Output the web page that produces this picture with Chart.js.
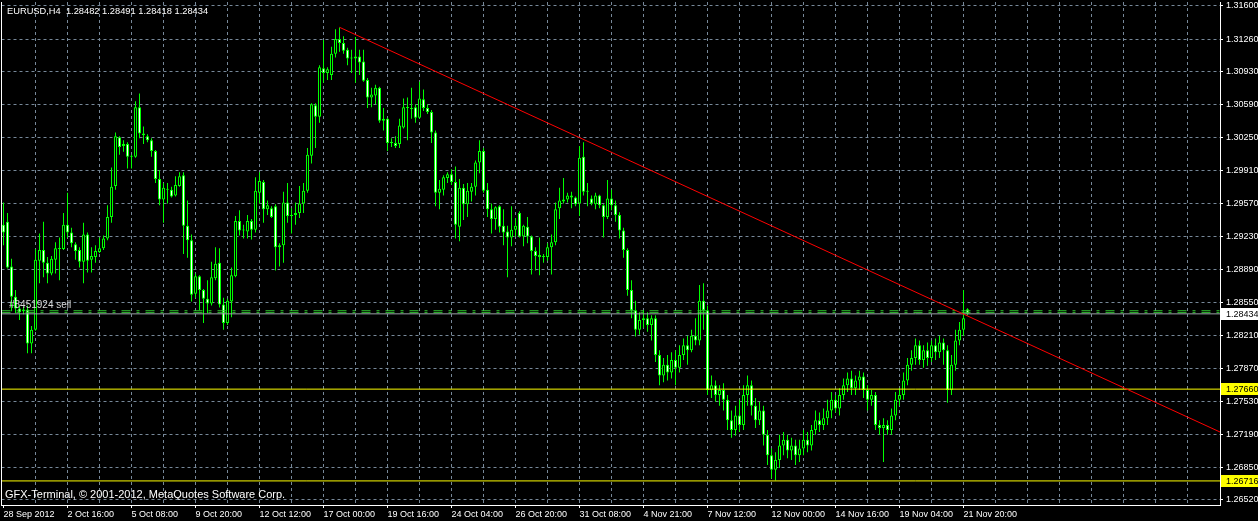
<!DOCTYPE html>
<html>
<head>
<meta charset="utf-8">
<script src="https://cdn.jsdelivr.net/npm/chart.js@4.4.0/dist/chart.umd.min.js"></script>
<style>
  html, body { margin:0; padding:0; background:#000; }
  #wrap { width:1258px; height:521px; }
</style>
</head>
<body>
<div id="wrap"><canvas id="chart" width="1258" height="521"></canvas></div>
<script>
// ============ DATA ============
const symbol = 'EURUSD,H4';

const opens = [
  1.2935,1.2938,1.2892,1.2861,1.2849,1.2846,1.2848,1.2813,1.2827,1.2898,
  1.2909,1.2896,1.2885,1.2899,1.2911,1.2910,1.2935,1.2927,1.2915,1.2909,
  1.2897,1.2925,1.2899,1.2902,1.2907,1.2911,1.2921,1.2943,1.2975,1.3025,
  1.3016,1.3018,1.3005,1.3005,1.3056,1.3029,1.3026,1.3022,1.3011,1.2982,
  1.2961,1.2972,1.2971,1.2965,1.2975,1.2986,1.2934,1.2919,1.2864,1.2882,
  1.2868,1.2859,1.2854,1.2880,1.2896,1.2853,1.2834,1.2856,1.2882,1.2939,
  1.2929,1.2928,1.2939,1.2930,1.2968,1.2979,1.2951,1.2952,1.2954,1.2912,
  1.2914,1.2958,1.2944,1.2945,1.2947,1.2957,1.2970,1.3006,1.3058,1.3046,
  1.3096,1.3091,1.3089,1.3111,1.3126,1.3122,1.3115,1.3106,1.3106,1.3108,
  1.3103,1.3084,1.3066,1.3068,1.3076,1.3042,1.3044,1.3019,1.3019,1.3018,
  1.3035,1.3056,1.3055,1.3056,1.3045,1.3064,1.3055,1.3051,1.3030,1.2968,
  1.2971,1.2983,1.2987,1.2979,1.2933,1.2973,1.2956,1.2969,1.2974,1.2999,
  1.3011,1.2971,1.2951,1.2941,1.2954,1.2934,1.2928,1.2922,1.2930,1.2947,
  1.2923,1.2933,1.2923,1.2908,1.2904,1.2902,1.2902,1.2912,1.2917,1.2952,
  1.2959,1.2961,1.2965,1.2963,1.2957,1.3005,1.2969,1.2962,1.2956,1.2965,
  1.2955,1.2943,1.2962,1.2955,1.2945,1.2929,1.2909,1.2868,1.2847,1.2827,
  1.2837,1.2839,1.2832,1.2839,1.2801,1.2780,1.2791,1.2783,1.2796,1.2788,
  1.2801,1.2811,1.2806,1.2821,1.2816,1.2857,1.2847,1.2765,1.2770,1.2760,
  1.2765,1.2755,1.2734,1.2724,1.2739,1.2729,1.2760,1.2770,1.2749,1.2734,
  1.2744,1.2719,1.2698,1.2683,1.2693,1.2708,1.2714,1.2703,1.2708,1.2698,
  1.2705,1.2714,1.2708,1.2724,1.2734,1.2729,1.2736,1.2744,1.2755,1.2746,
  1.2760,1.2770,1.2777,1.2767,1.2775,1.2779,1.2765,1.2755,1.2760,1.2729,
  1.2726,1.2729,1.2724,1.2739,1.2755,1.2760,1.2775,1.2791,1.2798,1.2811,
  1.2796,1.2806,1.2798,1.2811,1.2804,1.2814,1.2806,1.2765,1.2791,1.2816,
  1.2827,1.28482
];
const highs = [
  1.2958,1.2947,1.2900,1.2868,1.2852,1.2851,1.2852,1.2831,1.2910,1.2926,
  1.2938,1.2902,1.2903,1.2917,1.2922,1.2947,1.2968,1.2932,1.2917,1.2912,
  1.2937,1.2927,1.2912,1.2914,1.2922,1.2924,1.2955,1.2994,1.3030,1.3026,
  1.3022,1.3020,1.3007,1.3062,1.3070,1.3036,1.3028,1.3024,1.3012,1.2991,
  1.2978,1.2978,1.2974,1.2985,1.2989,1.2989,1.2960,1.2925,1.2885,1.2883,
  1.2869,1.2878,1.2897,1.2912,1.2911,1.2860,1.2859,1.2891,1.2944,1.2950,
  1.2935,1.2945,1.2941,1.2984,1.2989,1.2981,1.2960,1.2954,1.2956,1.2916,
  1.2969,1.2978,1.2952,1.2958,1.2975,1.2978,1.3014,1.3060,1.3060,1.3099,
  1.3125,1.3097,1.3118,1.3136,1.3138,1.3129,1.3117,1.3115,1.3128,1.3115,
  1.3115,1.3086,1.3076,1.3079,1.3077,1.3055,1.3045,1.3024,1.3026,1.3044,
  1.3065,1.3066,1.3076,1.3059,1.3082,1.3074,1.3059,1.3053,1.3032,1.2981,
  1.2986,1.2989,1.2992,1.2995,1.2982,1.2977,1.2978,1.2978,1.3001,1.3022,
  1.3014,1.2978,1.2957,1.2954,1.2955,1.2951,1.2934,1.2954,1.2942,1.2949,
  1.2935,1.2943,1.2924,1.2912,1.2922,1.2905,1.2916,1.2925,1.2958,1.2973,
  1.2983,1.2968,1.2969,1.2964,1.3016,1.3020,1.2978,1.2965,1.2968,1.2966,
  1.2956,1.2981,1.2971,1.2960,1.2948,1.2932,1.2911,1.2878,1.2857,1.2845,
  1.2847,1.2845,1.2842,1.2842,1.2806,1.2798,1.2801,1.2804,1.2806,1.2811,
  1.2818,1.2821,1.2827,1.2839,1.2873,1.2875,1.2852,1.2780,1.2775,1.2770,
  1.2772,1.2760,1.2744,1.2749,1.2755,1.2770,1.2780,1.2775,1.2757,1.2753,
  1.2749,1.2724,1.2705,1.2701,1.2719,1.2722,1.2719,1.2716,1.2714,1.2714,
  1.2724,1.2722,1.2729,1.2744,1.2742,1.2746,1.2755,1.2763,1.2760,1.2767,
  1.2777,1.2783,1.2785,1.2780,1.2785,1.2783,1.2770,1.2765,1.2763,1.2734,
  1.2736,1.2734,1.2746,1.2763,1.2767,1.2783,1.2798,1.2806,1.2818,1.2816,
  1.2811,1.2814,1.2816,1.2818,1.2821,1.2818,1.2811,1.2801,1.2827,1.2835,
  1.2868,1.28491
];
const lows = [
  1.2914,1.2890,1.2846,1.2844,1.2837,1.2843,1.2803,1.2803,1.2826,1.2875,
  1.2881,1.2875,1.2883,1.2885,1.2878,1.2909,1.2922,1.2912,1.2899,1.2891,
  1.2875,1.2886,1.2886,1.2896,1.2906,1.2909,1.2919,1.2937,1.2971,1.3007,
  1.3010,1.2993,1.2993,1.3004,1.3024,1.3018,1.3020,1.3005,1.2978,1.2955,
  1.2937,1.2957,1.2963,1.2964,1.2974,1.2905,1.2901,1.2856,1.2860,1.2847,
  1.2834,1.2844,1.2852,1.2878,1.2850,1.2827,1.2832,1.2840,1.2881,1.2924,
  1.2921,1.2921,1.2920,1.2927,1.2957,1.2937,1.2945,1.2942,1.2888,1.2892,
  1.2896,1.2937,1.2926,1.2935,1.2942,1.2947,1.2968,1.2998,1.3014,1.3040,
  1.3081,1.3084,1.3084,1.3107,1.3113,1.3111,1.3099,1.3091,1.3081,1.3089,
  1.3082,1.3055,1.3056,1.3059,1.3040,1.3032,1.3011,1.3015,1.3014,1.3014,
  1.3034,1.3022,1.3044,1.3040,1.3044,1.3052,1.3049,1.3019,1.2954,1.2951,
  1.2965,1.2978,1.2976,1.2921,1.2918,1.2940,1.2943,1.2959,1.2965,1.2988,
  1.2968,1.2943,1.2926,1.2930,1.2927,1.2914,1.2881,1.2913,1.2923,1.2922,
  1.2913,1.2916,1.2884,1.2888,1.2883,1.2896,1.2898,1.2884,1.2914,1.2941,
  1.2957,1.2958,1.2952,1.2954,1.2944,1.2965,1.2954,1.2955,1.2951,1.2952,
  1.2922,1.2941,1.2950,1.2938,1.2921,1.2901,1.2862,1.2839,1.2820,1.2822,
  1.2829,1.2825,1.2816,1.2794,1.2770,1.2773,1.2775,1.2777,1.2770,1.2783,
  1.2796,1.2791,1.2804,1.2811,1.2811,1.2827,1.2760,1.2757,1.2753,1.2749,
  1.2744,1.2724,1.2716,1.2718,1.2722,1.2724,1.2749,1.2739,1.2726,1.2729,
  1.2708,1.2688,1.2674,1.2672,1.2685,1.2698,1.2695,1.2693,1.2688,1.2691,
  1.2698,1.2701,1.2703,1.2719,1.2722,1.2724,1.2729,1.2736,1.2742,1.2739,
  1.2755,1.2763,1.2760,1.2760,1.2765,1.2757,1.2744,1.2749,1.2724,1.2719,
  1.2691,1.2719,1.2719,1.2734,1.2749,1.2755,1.2770,1.2785,1.2791,1.2791,
  1.2788,1.2790,1.2794,1.2796,1.2798,1.2791,1.2752,1.2760,1.2785,1.2811,
  1.2821,1.28418
];
const closes = [
  1.2927,1.2891,1.2861,1.2849,1.2845,1.2848,1.2813,1.2827,1.2899,1.2909,
  1.2896,1.2885,1.2900,1.2911,1.2910,1.2935,1.2927,1.2916,1.2908,1.2897,
  1.2925,1.2898,1.2903,1.2908,1.2911,1.2921,1.2943,1.2974,1.3026,1.3015,
  1.3018,1.3005,1.3006,1.3056,1.3029,1.3027,1.3022,1.3011,1.2982,1.2961,
  1.2973,1.2971,1.2964,1.2976,1.2985,1.2934,1.2919,1.2863,1.2882,1.2868,
  1.2859,1.2854,1.2881,1.2895,1.2853,1.2834,1.2857,1.2883,1.2939,1.2929,
  1.2930,1.2939,1.2930,1.2970,1.2980,1.2951,1.2955,1.2943,1.2912,1.2914,
  1.2958,1.2944,1.2945,1.2947,1.2957,1.2970,1.3007,1.3059,1.3046,1.3097,
  1.3091,1.3095,1.3111,1.3126,1.3122,1.3114,1.3106,1.3107,1.3108,1.3102,
  1.3083,1.3066,1.3069,1.3076,1.3042,1.3044,1.3019,1.3020,1.3016,1.3037,
  1.3056,1.3055,1.3054,1.3045,1.3065,1.3055,1.3051,1.3030,1.2968,1.2972,
  1.2984,1.2987,1.2979,1.2935,1.2973,1.2956,1.2970,1.2974,1.2999,1.3011,
  1.2970,1.2951,1.2941,1.2953,1.2933,1.2927,1.2922,1.2930,1.2934,1.2923,
  1.2934,1.2923,1.2908,1.2903,1.2902,1.2903,1.2912,1.2917,1.2951,1.2960,
  1.2961,1.2965,1.2963,1.2956,1.3004,1.2969,1.2970,1.2957,1.2965,1.2955,
  1.2943,1.2962,1.2955,1.2945,1.2929,1.2909,1.2868,1.2847,1.2827,1.2837,
  1.2839,1.2832,1.2839,1.2801,1.2780,1.2791,1.2783,1.2796,1.2788,1.2801,
  1.2811,1.2806,1.2821,1.2816,1.2857,1.2847,1.2765,1.2770,1.2760,1.2765,
  1.2755,1.2734,1.2724,1.2739,1.2729,1.2760,1.2770,1.2749,1.2734,1.2744,
  1.2719,1.2698,1.2683,1.2693,1.2708,1.2714,1.2703,1.2708,1.2698,1.2705,
  1.2714,1.2708,1.2724,1.2734,1.2729,1.2736,1.2744,1.2755,1.2746,1.2760,
  1.2770,1.2777,1.2767,1.2775,1.2779,1.2765,1.2755,1.2760,1.2729,1.2726,
  1.2729,1.2724,1.2739,1.2755,1.2760,1.2775,1.2791,1.2798,1.2811,1.2796,
  1.2806,1.2798,1.2811,1.2804,1.2814,1.2806,1.2765,1.2791,1.2816,1.2827,
  1.2839,1.28434
];

// one label every 16 bars (bar 0, 16, 32 ...)
const timeLabels = [
  '28 Sep 2012','2 Oct 16:00','5 Oct 08:00','9 Oct 20:00','12 Oct 12:00',
  '17 Oct 00:00','19 Oct 16:00','24 Oct 04:00','26 Oct 20:00','31 Oct 08:00',
  '4 Nov 21:00','7 Nov 12:00','12 Nov 00:00','14 Nov 16:00','19 Nov 04:00',
  '21 Nov 20:00'
];
const priceTicks = [
  1.31600,1.31260,1.30930,1.30590,1.30250,1.29910,1.29570,1.29230,
  1.28890,1.28550,1.28210,1.27870,1.27530,1.27190,1.26850,1.26520
];
const bidPrice = 1.28434;
const levelPrices = [1.27660, 1.26716];
const orderPrices = [1.28466, 1.28446];
const orderLabel = '#8451924 sell';
const trendFrom = { bar: 84, price: 1.31381 };
const trendTo = { bar: 304.125, price: 1.27219 };
const copyright = 'GFX-Terminal, \u00a9 2001-2012, MetaQuotes Software Corp.';

// ============ STYLE ============
const LIME = '#00ff00';
const GRID = '#778899';
const FONT = '"Liberation Sans", Arial, sans-serif';
const X_MIN = -0.5, X_MAX = 304.125;
const Y_MIN = 1.264684, Y_MAX = 1.316411;

Chart.defaults.font.family = FONT;
Chart.defaults.font.size = 9;

const wicks = lows.map((l, i) => ({ x: i, y: [l, highs[i]] }));
const bodies = opens.map((o, i) => ({ x: i, y: [Math.min(o, closes[i]), Math.max(o, closes[i])] }));
const bodyFill = opens.map((o, i) => closes[i] > o ? '#000000' : '#ffffff');
const hline = p => [{ x: X_MIN, y: p }, { x: X_MAX, y: p }];
const lineDs = (data, color, extra) => Object.assign({
  type: 'line', data, borderColor: color, borderWidth: 1, pointRadius: 0, tension: 0, order: 0
}, extra || {});

const mtDecor = {
  id: 'mtDecor',
  beforeDraw(chart) {
    const { ctx, width, height } = chart;
    ctx.save();
    ctx.fillStyle = '#000';
    ctx.fillRect(0, 0, width, height);
    ctx.restore();
  },
  afterDraw(chart) {
    const { ctx, chartArea: a, scales: { y } } = chart;
    const n = closes.length - 1;
    ctx.save();
    ctx.fillStyle = '#fff';
    ctx.fillRect(1, a.top, 1, a.bottom - a.top);

    ctx.textBaseline = 'middle';
    ctx.textAlign = 'left';
    ctx.font = '9.3px ' + FONT;
    ctx.fillText(`${symbol}  ${opens[n].toFixed(5)} ${highs[n].toFixed(5)} ${lows[n].toFixed(5)} ${closes[n].toFixed(5)}`, 7, 11);

    ctx.font = '11px ' + FONT;
    ctx.fillText(copyright, 5, 495);

    ctx.font = '10px ' + FONT;
    ctx.fillStyle = '#d8d8d8';
    ctx.fillText(orderLabel, 9, Math.round(y.getPixelForValue(orderPrices[0])) - 6);

    const boxes = [
      { price: bidPrice, bg: '#ffffff' },
      { price: levelPrices[0], bg: '#ffff00' },
      { price: levelPrices[1], bg: '#ffff00' }
    ];
    ctx.font = '9px ' + FONT;
    boxes.forEach(b => {
      const py = Math.round(y.getPixelForValue(b.price));
      ctx.fillStyle = b.bg;
      ctx.fillRect(a.right + 1, py - 6, 40, 12);
      ctx.fillStyle = '#000';
      ctx.fillText(b.price.toFixed(5), a.right + 6, py + 0.5);
    });
    ctx.restore();
  }
};

new Chart(document.getElementById('chart'), {
  type: 'bar',
  data: {
    datasets: [
      lineDs([{ x: trendFrom.bar, y: trendFrom.price }, { x: trendTo.bar, y: trendTo.price }], '#ff0000'),
      lineDs(hline(levelPrices[0]), '#ffff00'),
      lineDs(hline(levelPrices[1]), '#ffff00'),
      lineDs(hline(bidPrice), '#9aa0a8'),
      lineDs(hline(orderPrices[0]), '#32cd32', { borderDash: [9, 6, 3, 6] }),
      lineDs(hline(orderPrices[1]), '#32cd32', { borderDash: [9, 6, 3, 6] }),
      {
        data: bodies, backgroundColor: bodyFill, borderColor: LIME, borderWidth: 1,
        borderSkipped: false, barThickness: 3, grouped: false, inflateAmount: 0,
        minBarLength: 1, order: 1
      },
      {
        data: wicks, backgroundColor: LIME, borderWidth: 0, barThickness: 1,
        grouped: false, inflateAmount: 0, order: 2
      }
    ]
  },
  options: {
    responsive: false,
    animation: false,
    devicePixelRatio: 1,
    layout: { padding: { left: 1.5, top: 2, right: 0, bottom: 0 } },
    plugins: { legend: { display: false }, tooltip: { enabled: false } },
    scales: {
      x: {
        type: 'linear', position: 'bottom', min: X_MIN, max: X_MAX, offset: false,
        afterBuildTicks: s => {
          const t = [];
          for (let v = 0; v <= X_MAX; v += 8) t.push({ value: v });
          s.ticks = t;
        },
        afterFit: s => { s.height = 16; s.paddingLeft = 0; s.paddingRight = 0; },
        ticks: {
          autoSkip: false, maxRotation: 0, align: 'start', padding: 1, color: '#fff',
          callback: v => (v % 16 === 0 && timeLabels[v / 16]) || ''
        },
        grid: {
          offset: false,
          color: c => (c.tick && c.tick.value > 0 && c.tick.value < 300) ? GRID : 'transparent',
          tickColor: c => (c.tick && c.tick.value % 16 === 0 && timeLabels[c.tick.value / 16]) ? '#fff' : 'transparent',
          tickLength: 3
        },
        border: { color: '#fff', width: 1, dash: [3, 3] }
      },
      y: {
        type: 'linear', position: 'right', min: Y_MIN, max: Y_MAX,
        afterBuildTicks: s => { s.ticks = priceTicks.map(v => ({ value: v })); },
        afterFit: s => { s.width = 38; s.paddingTop = 0; s.paddingBottom = 0; },
        ticks: { padding: 3, color: '#fff', callback: v => v.toFixed(5) },
        grid: { color: GRID, tickColor: '#fff', tickLength: 3 },
        border: { color: '#fff', width: 1, dash: [3, 3] }
      }
    }
  },
  plugins: [mtDecor]
});
</script>
</body>
</html>
